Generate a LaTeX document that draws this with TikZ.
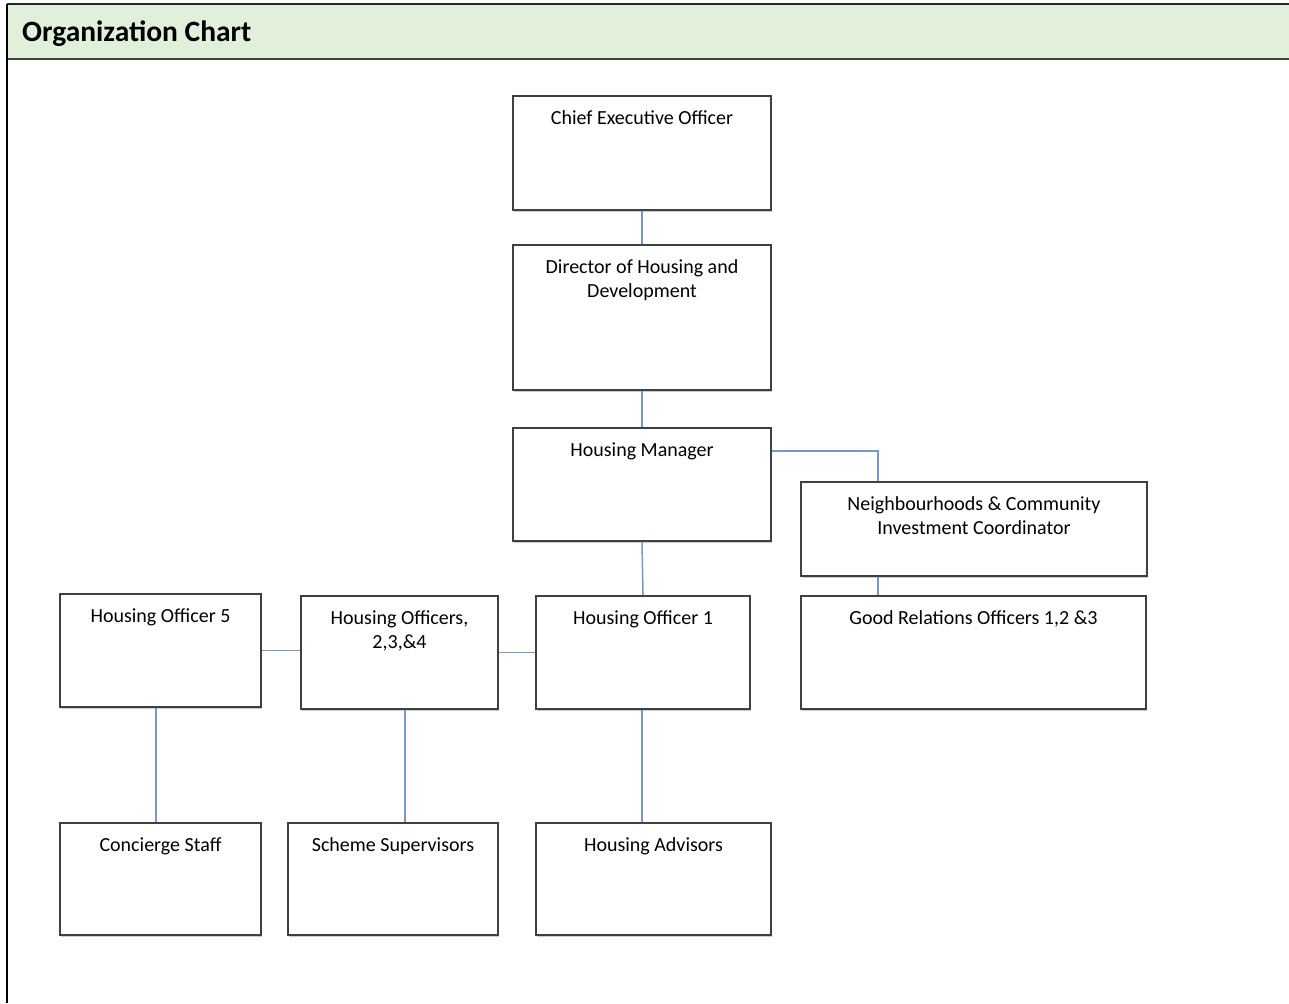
\documentclass[tikz,border=0pt]{standalone}
\usepackage{fontspec}
\setmainfont{Carlito}
\definecolor{orgline}{RGB}{64,64,64}
\definecolor{orglink}{RGB}{118,150,210}
\definecolor{orghead}{RGB}{226,239,218}
\usetikzlibrary{shadows}
\tikzset{
  box/.style={rectangle,draw=orgline,line width=1.6pt,fill=white,
              drop shadow={shadow xshift=0.6pt,shadow yshift=-1.6pt,opacity=0.4},
              inner sep=0pt},
  boxtext/.style={anchor=north,yshift=-15pt,inner sep=0pt,align=center,
                  font=\fontsize{20}{24.4}\selectfont,text=black},
  link/.style={orglink,line width=1.5pt},
}
\begin{document}
\begin{tikzpicture}[x=1pt,y=-1pt]
    \useasboundingbox (0,0) rectangle (1289,1003);
    \fill[orghead] (7,4) rectangle (1289,59);
    \draw[line width=1.6pt,black!85] (7,4) -- (1289,4);
    \draw[line width=1.6pt,orgline] (7,59) -- (1289,59);
    \draw[line width=1.4pt,black] (7,4) -- (7,1003);
    \node[anchor=base west,inner sep=0pt,
          font=\fontsize{29.5}{35}\selectfont\bfseries] (title) at (22,42)
          {Organization Chart};

    \node[box,minimum width=258pt,minimum height=114pt,
          label={[boxtext]north:Chief Executive Officer}] (ceo) at (642,153) {};
    \node[box,minimum width=258pt,minimum height=145pt,
          label={[boxtext]north:Director of Housing and\\Development}] (dir) at (642,317.5) {};
    \node[box,minimum width=258pt,minimum height=113pt,
          label={[boxtext]north:Housing Manager}] (hm) at (642,484.5) {};
    \node[box,minimum width=346pt,minimum height=94pt,
          label={[boxtext]north:Neighbourhoods \& Community\\Investment Coordinator}] (nbh) at (974,529) {};
    \node[box,minimum width=345pt,minimum height=113pt,
          label={[boxtext]north:Good Relations Officers 1,2 \&3}] (gro) at (973.5,652.5) {};

    \node[box,minimum width=201pt,minimum height=113pt,
          label={[boxtext]north:Housing Officer 5}] (ho5) at (160.5,650.5) {};
    \node[box,minimum width=197pt,minimum height=113pt,
          label={[boxtext]north:Housing Officers,\\2,3,\&4}] (hos) at (399.5,652.5) {};
    \node[box,minimum width=214pt,minimum height=113pt,
          label={[boxtext]north:Housing Officer 1}] (ho1) at (643,652.5) {};

    \node[box,minimum width=201pt,minimum height=112pt,
          label={[boxtext]north:Concierge Staff}] (con) at (160.5,879) {};
    \node[box,minimum width=210pt,minimum height=112pt,
          label={[boxtext]north:Scheme Supervisors}] (sup) at (393,879) {};
    \node[box,minimum width=235pt,minimum height=112pt,
          label={[boxtext]north:Housing Advisors}] (adv) at (653.5,879) {};

    \foreach \a/\b in {ceo/dir, dir/hm, hm/ho1}{
      \draw[link] (\a.south) -- (\b.north);
    }
    \foreach \a/\b/\dx in {ho5/con/-4.5, hos/sup/5.5, ho1/adv/-1, nbh/gro/-96}{
      \draw[link] ([xshift=\dx pt]\a.south) -- ([xshift=\dx pt]\a.south |- \b.north);
    }
    \draw[link] ([yshift=33.5pt]hm.east) -| ([xshift=-96pt]nbh.north);
    \draw[link] (ho5.east) -- (ho5.east -| hos.west);
    \draw[link] (hos.east) -- (ho1.west);
\end{tikzpicture}
\end{document}
